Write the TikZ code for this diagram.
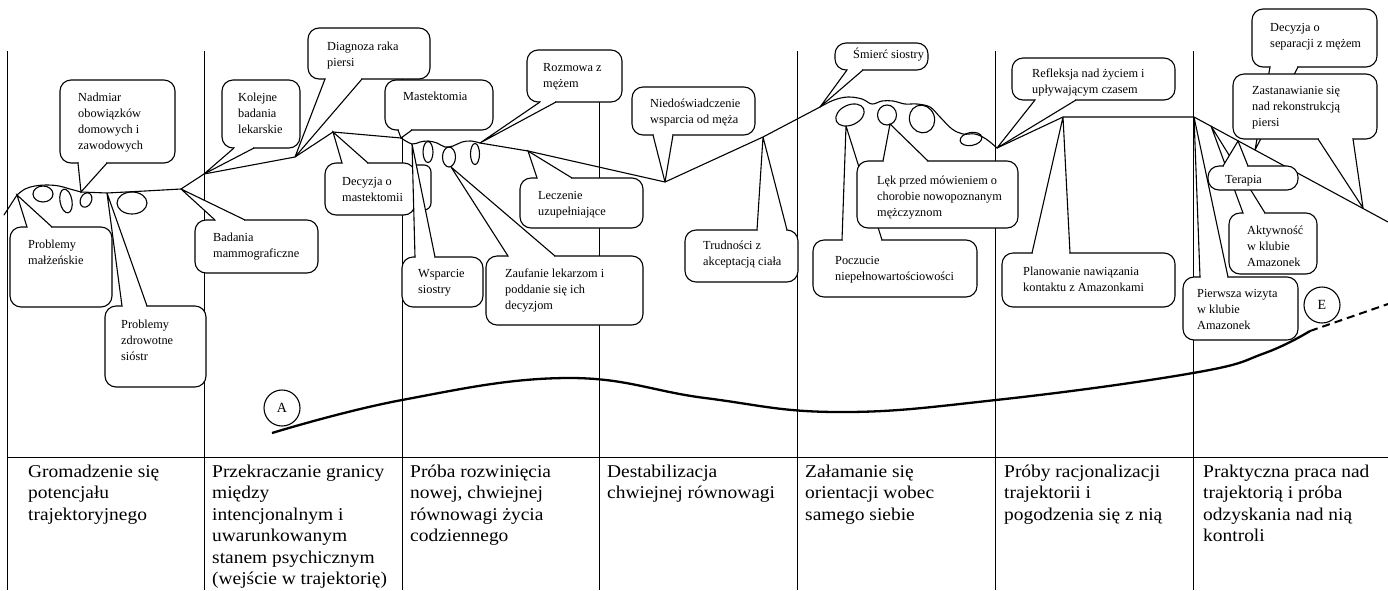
\documentclass[tikz,border=0pt]{standalone}
\usepackage{fontspec}
\setmainfont{Liberation Serif}
\newfontfamily\tablefont[FakeStretch=1.08]{Liberation Serif}

\tikzset{
  colline/.style={line width=0.9pt},
  traj/.style={line width=1.1pt, line join=round, line cap=round},
  lowercurve/.style={line width=2.3pt},
  cbox/.style={draw, fill=white, line width=1.1pt, rounded corners=11pt},
  wedgeline/.style={line width=1.1pt, line join=miter, miter limit=4},
  ctext/.style={anchor=base west, inner sep=0pt, font=\fontsize{12.3pt}{16pt}\selectfont},
  ttext/.style={anchor=base west, inner sep=0pt, font=\tablefont\fontsize{18pt}{21.5pt}\selectfont},
  phase/.style={circle, draw, fill=white, line width=1.1pt, minimum size=36pt, inner sep=0pt,
                font=\fontsize{14pt}{16pt}\selectfont},
}

% callout: box corners, wedge base x-range and y, tip coordinate
\newcommand\callout[8]{%
  \filldraw[cbox] (#1,#2) rectangle (#3,#4);
  \fill[white] (#5,#7) -- (#8) -- (#6,#7) -- cycle;
  \fill[white] (#5+0.9,#7-1.3) rectangle (#6-0.9,#7+1.3);
  \draw[wedgeline] (#5,#7) -- (#8) -- (#6,#7);
}
\newcommand\lines[1]{\parbox[t]{9cm}{\raggedright #1}}

\begin{document}
\begin{tikzpicture}[x=1pt,y=-1pt]
\useasboundingbox (0,0) rectangle (1388,590);

% ---- phase columns and table rule
\foreach \cx in {7,204,402,599,797,995,1193}
  \draw[colline] (\cx,51) -- (\cx,590);
\draw[colline] (7,457) -- (1388,457);

% ---- lower trajectory curve with phase markers
\coordinate (la) at (272,433);
\coordinate (le) at (1310,331);
\coordinate (lend) at (1388,304);
\draw[lowercurve] plot[smooth, tension=0.7] coordinates
  {(272,433) (402,400) (567,378) (705,398) (836,412) (996,400) (1193,373) (1265,353) (1310,331)};
\draw[lowercurve, line width=2pt, dash pattern=on 8pt off 5pt] (le) -- (lend);
\node[phase] (A) at (282,408) {A};
\node[phase] (E) at (1322,305) {E};

% ---- upper trajectory: named turning points
\coordinate (t0) at (4,215);
\coordinate (t1) at (17,195);
\coordinate (t2) at (81,192);
\coordinate (t3) at (107,193);
\coordinate (t4) at (181,189);
\coordinate (t5) at (204,174);
\coordinate (t6) at (295,157);
\coordinate (t7) at (333,132);
\coordinate (t8) at (401,138);
\coordinate (t9) at (412,144);
\coordinate (t10) at (451,167);
\coordinate (t11) at (480,143);
\coordinate (t12) at (528,151);
\coordinate (t13) at (665,182);
\coordinate (t14) at (763,137);
\coordinate (t15) at (820,107);
\coordinate (t16) at (846,126);
\coordinate (t17) at (890,124);
\coordinate (t18) at (997,148);
\coordinate (t19) at (1063,117);
\coordinate (t20) at (1194,117);
\coordinate (t21) at (1211,126);
\coordinate (t22) at (1238,141);
\coordinate (t23) at (1255,150);
\coordinate (t24) at (1363,208);
\coordinate (t25) at (1388,222);

\draw[traj] (t0) -- (t1);
\draw[traj] plot[smooth, tension=0.6] coordinates {(17,195) (25,189) (35,186) (47,185) (59,186) (70,189) (81,192)};
\draw[traj] (t2) -- (t3) -- (145,191) -- (t4) -- (t5) -- (t6) -- (t7) -- (t8);
\draw[traj] plot[smooth, tension=0.6] coordinates {(401,138) (412,144) (420,142) (428,141) (437,143) (445,147) (453,146) (462,142) (471,141) (480,143)};
\draw[traj] (t11) -- (t12) -- (t13) -- (t14) -- (t15);
\draw[traj] plot[smooth, tension=0.6] coordinates {(820,107) (834,100) (848,97) (862,99) (872,104) (882,101) (893,101) (905,104) (917,104) (930,107) (940,117) (952,129) (963,134) (975,134) (986,139) (997,148)};
\draw[traj] (t18) -- (t19) -- (t20) -- (t25);

% loops of the trajectory
\draw[traj] (43,194) ellipse [x radius=10pt, y radius=8pt];
\draw[traj, rotate around={10:(66,201)}] (66,201) ellipse [x radius=6pt, y radius=12pt];
\draw[traj, rotate around={-25:(86,200)}] (86,200) ellipse [x radius=5.5pt, y radius=7.5pt];
\draw[traj] (132,203) ellipse [x radius=15pt, y radius=11pt];
\draw[traj] (428,152) ellipse [x radius=5pt, y radius=10.5pt];
\draw[traj] (449,157) ellipse [x radius=6.5pt, y radius=10pt];
\draw[traj] (475,154) ellipse [x radius=4.5pt, y radius=10.5pt];
\draw[traj, rotate around={25:(850,115)}] (850,115) ellipse [x radius=15pt, y radius=10pt];
\draw[traj] (887,115) ellipse [x radius=9.5pt, y radius=10pt];
\draw[traj, rotate around={20:(922,119)}] (922,119) ellipse [x radius=12.5pt, y radius=14pt];
\draw[traj, rotate around={10:(971,139)}] (971,139) ellipse [x radius=11pt, y radius=6.5pt];
\draw[traj, rounded corners=7pt] (416,165) -- (431,165) -- (431,210) -- (424,210);

% ---- callouts
\callout{60}{80}{175}{163}{78}{107}{163}{t2}
\node[ctext] (c1) at (78,101) {\lines{Nadmiar\\obowiązków\\domowych i\\zawodowych}};
\callout{10}{227}{112}{307}{27}{52}{227}{t1}
\node[ctext] (c2) at (28,248) {\lines{Problemy\\małżeńskie}};
\callout{105}{306}{206}{387}{122}{147}{306}{t3}
\node[ctext] (c3) at (121,328) {\lines{Problemy\\zdrowotne\\sióstr}};
\callout{195}{220}{318}{273}{215}{245}{220}{t4}
\node[ctext] (c4) at (213,241) {\lines{Badania\\mammograficzne}};
\callout{222}{80}{300}{148}{234}{254}{148}{t5}
\node[ctext] (c5) at (238,101) {\lines{Kolejne\\badania\\lekarskie}};
\callout{308}{28}{430}{79}{325}{362}{79}{t6}
\node[ctext] (c6) at (327,50) {\lines{Diagnoza raka\\piersi}};
\callout{325}{163}{415}{215}{342}{368}{163}{t7}
\node[ctext] (c7) at (342,185) {\lines{Decyzja o\\mastektomii}};
\callout{385}{80}{493}{130}{398}{412}{130}{t8}
\node[ctext] (c8) at (403,100) {\lines{Mastektomia}};
\callout{527}{50}{622}{102}{540}{556}{102}{t11}
\node[ctext] (c9) at (543,71) {\lines{Rozmowa z\\mężem}};
\callout{402}{257}{483}{307}{415}{435}{257}{t9}
\node[ctext] (c10) at (418,277) {\lines{Wsparcie\\siostry}};
\callout{520}{178}{643}{228}{537}{572}{178}{t12}
\node[ctext] (c12) at (538,199) {\lines{Leczenie\\uzupełniające}};
\callout{486}{256}{643}{325}{508}{555}{256}{t10}
\node[ctext] (c11) at (505,277) {\lines{Zaufanie lekarzom i\\poddanie się ich\\decyzjom}};
\callout{632}{87}{755}{135}{653}{673}{135}{t13}
\node[ctext] (c13) at (650,107) {\lines{Niedoświadczenie\\wsparcia od męża}};
\callout{685}{230}{798}{282}{757}{787}{230}{t14}
\node[ctext] (c14) at (703,249) {\lines{Trudności z\\akceptacją ciała}};
\callout{835}{43}{928}{70}{847}{863}{70}{t15}
\node[ctext] (c15) at (853,58) {\lines{Śmierć siostry}};
\callout{813}{240}{977}{297}{842}{882}{240}{t16}
\node[ctext] (c17) at (835,264) {\lines{Poczucie\\niepełnowartościowości}};
\callout{857}{161}{1018}{228}{883}{928}{161}{t17}
\node[ctext] (c16) at (877,184) {\lines{Lęk przed mówieniem o\\chorobie nowopoznanym\\mężczyznom}};
\callout{1012}{58}{1175}{100}{1035}{1076}{100}{t18}
\node[ctext] (c18) at (1032,77) {\lines{Refleksja nad życiem i\\upływającym czasem}};
\callout{1002}{253}{1175}{307}{1032}{1070}{253}{t19}
\node[ctext] (c19) at (1023,275) {\lines{Planowanie nawiązania\\kontaktu z Amazonkami}};
\callout{1252}{9}{1377}{67}{1270}{1298}{67}{t23}
\node[ctext] (c20) at (1270,31) {\lines{Decyzja o\\separacji z mężem}};
\callout{1233}{74}{1377}{139}{1318}{1353}{139}{t24}
\node[ctext] (c21) at (1252,94) {\lines{Zastanawianie się\\nad rekonstrukcją\\piersi}};
\callout{1229}{213}{1317}{274}{1243}{1265}{213}{t21}
\node[ctext] (c23) at (1247,234) {\lines{Aktywność\\w klubie\\Amazonek}};
\callout{1183}{277}{1298}{340}{1200}{1228}{277}{t20}
\node[ctext] (c24) at (1197,297) {\lines{Pierwsza wizyta\\w klubie\\Amazonek}};
\callout{1208}{166}{1298}{190}{1223}{1248}{166}{t22}
\node[ctext] (c22) at (1225,183) {\lines{Terapia}};

% ---- phase names
\node[ttext] (p1) at (28,477) {\lines{Gromadzenie się\\potencjału\\trajektoryjnego}};
\node[ttext] (p2) at (212,477) {\lines{Przekraczanie granicy\\między\\intencjonalnym i\\uwarunkowanym\\stanem psychicznym\\(wejście w trajektorię)}};
\node[ttext] (p3) at (410,477) {\lines{Próba rozwinięcia\\nowej, chwiejnej\\równowagi życia\\codziennego}};
\node[ttext] (p4) at (607,477) {\lines{Destabilizacja\\chwiejnej równowagi}};
\node[ttext] (p5) at (805,477) {\lines{Załamanie się\\orientacji wobec\\samego siebie}};
\node[ttext] (p6) at (1004,477) {\lines{Próby racjonalizacji\\trajektorii i\\pogodzenia się z nią}};
\node[ttext] (p7) at (1203,477) {\lines{Praktyczna praca nad\\trajektorią i próba\\odzyskania nad nią\\kontroli}};
\end{tikzpicture}
\end{document}
